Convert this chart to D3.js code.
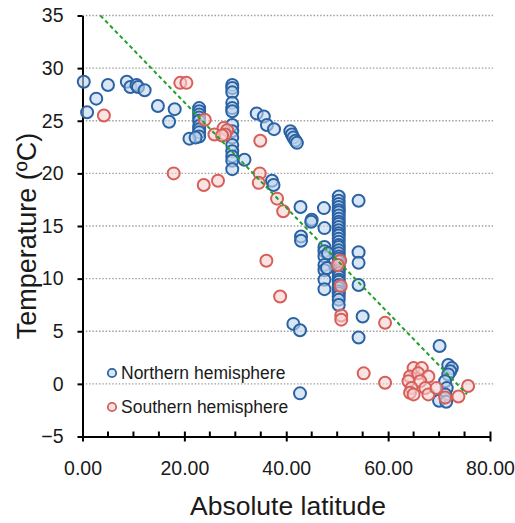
<!DOCTYPE html>
<html><head><meta charset="utf-8">
<script src="https://cdnjs.cloudflare.com/ajax/libs/d3/7.8.5/d3.min.js"></script>
<style>html,body{margin:0;padding:0;background:#fff;}svg{display:block;font-family:"Liberation Sans",Arial,sans-serif;}</style>
</head><body><svg id="c" width="515" height="523"></svg>
<script>
// ---- data ----
const northX = [0.25,0.9,2.7,5.0,8.7,9.4,10.6,10.9,12.2,14.8,18.1,17.0,
  22.9,22.9,22.9,22.9,22.9,22.9,22.9,22.9,22.9,21.0,22.2,
  29.4,29.4,29.4,29.4,29.4,29.4,29.4,29.4,29.4,29.4,29.4,29.4,29.4,29.4,
  31.8,34.2,35.6,36.2,37.6,40.8,41.1,41.4,41.8,42.1,37.2,37.5,
  42.8,45.0,44.9,47.4,42.9,42.9,
  47.5,47.5,47.5,47.5,47.5,47.5,47.5,47.5,48.2,48.0,
  50.3,50.3,50.3,50.3,50.3,50.3,50.3,50.3,50.3,50.3,50.3,50.3,50.3,50.3,50.3,50.3,50.3,50.3,50.3,50.3,
  50.3,50.3,50.3,50.3,50.3,50.3,50.3,50.3,50.3,50.3,50.3,50.3,50.3,50.3,50.3,50.3,50.3,
  54.2,54.2,54.2,54.2,55.0,54.2,41.4,42.7,42.7,
  70.1,71.8,72.5,72.2,71.8,71.2,71.5,71.2,70.0,71.4];
const northY = [28.7,25.8,27.1,28.4,28.7,28.2,28.4,28.2,27.9,26.4,26.1,24.9,
  26.2,25.9,25.6,25.3,25.0,24.5,24.2,23.9,23.5,23.3,23.4,
  28.4,28.1,27.7,26.7,26.2,25.9,24.6,24.0,23.4,22.7,22.1,21.6,21.2,20.4,
  21.3,25.7,25.4,24.6,24.2,24.0,23.7,23.4,23.1,22.9,19.3,18.9,
  16.8,15.6,15.4,16.7,14.0,13.6,
  14.8,13.0,12.6,12.1,11.3,10.8,9.9,9.0,12.4,11.0,
  17.8,17.4,17.1,16.8,16.5,16.3,16.0,15.7,15.4,15.2,14.9,14.6,14.3,14.1,13.8,13.5,13.2,13.0,12.7,12.4,
  12.1,11.9,11.6,11.3,11.0,10.8,10.5,10.2,9.9,9.7,9.4,9.1,8.8,8.6,8.3,8.0,7.5,
  17.4,12.5,11.5,9.4,6.4,4.4,5.7,5.1,-0.9,
  3.6,1.8,1.5,1.2,0.9,0.25,-0.4,-1.0,-1.6,-1.7];
const southX = [4.2,19.2,20.4,24.0,25.9,27.7,28.4,28.0,27.4,17.9,23.8,26.6,
  34.9,34.8,34.6,38.2,39.4,36.1,38.8,
  50.6,50.1,50.7,50.8,50.8,59.4,55.2,59.4,
  65.0,66.6,64.3,65.9,67.9,64.0,66.3,64.6,67.3,64.3,65.0,67.9,69.5,71.2,73.8,75.7];
const southY = [25.5,28.6,28.6,25.1,23.7,24.3,24.1,23.7,23.6,20.0,18.9,19.3,
  23.1,20.0,19.1,17.6,16.4,11.7,8.3,
  11.7,11.3,9.3,6.5,6.1,5.8,1.0,0.1,
  1.5,1.5,0.7,1.0,0.7,0.25,0.25,-0.4,-0.4,-0.85,-1.0,-1.0,-0.4,-1.3,-1.2,-0.2];
const trendX = [3.5, 75.5];
const trendY = [35, -1.0];
const xTicks = [0, 20, 40, 60, 80];
const xMinor = [5,10,15,25,30,35,45,50,55,65,70,75];
const yTicks = [-5,0,5,10,15,20,25,30,35];
const gridY = [0,5,10,15,20,25,30,35];
const seriesNames = ["Northern hemisphere","Southern hemisphere"];

// ---- chart ----
const svg = d3.select("#c");
const x = d3.scaleLinear().domain([0,80]).range([82.5,490]);
const y = d3.scaleLinear().domain([-5,35]).range([436.5,15.5]);
const blue = {stroke:"#2b62a3", fill:"rgba(190,214,238,0.6)"};
const red = {stroke:"#d65f5a", fill:"rgba(246,208,208,0.6)"};

// grid
svg.append("g").selectAll("line").data(gridY).join("line")
  .attr("x1", x(0)).attr("x2", x(80.6))
  .attr("y1", d=>y(d)).attr("y2", d=>y(d))
  .attr("stroke","#a0a0a0").attr("stroke-width",1.3).attr("stroke-dasharray","1.5,1.8");

// y axis
const ya = svg.append("g").attr("transform",`translate(${x(0)},0)`)
  .call(d3.axisLeft(y).tickValues(yTicks).tickFormat(d3.format("d")).tickSize(5).tickSizeOuter(0).tickPadding(14));
ya.select(".domain").attr("stroke","#000").attr("stroke-width",2);
ya.selectAll(".tick line").attr("stroke","#000").attr("stroke-width",2);
ya.selectAll("text").attr("font-size",19.5).attr("fill","#1a1a1a").attr("font-family","Liberation Sans, Arial, sans-serif");

// x axis
const xa = svg.append("g").attr("transform",`translate(0,${y(-5)})`)
  .call(d3.axisBottom(x).tickValues(xTicks).tickFormat(d3.format(".2f")).tickSize(5).tickSizeOuter(0).tickPadding(20));
xa.select(".domain").attr("stroke","#000").attr("stroke-width",2);
xa.selectAll(".tick line").attr("stroke","#000").attr("stroke-width",2).attr("y1",-5);
xa.selectAll("text").attr("font-size",19.5).attr("fill","#1a1a1a").attr("font-family","Liberation Sans, Arial, sans-serif");
xa.append("g").selectAll("line").data(xMinor).join("line")
  .attr("x1",d=>x(d)).attr("x2",d=>x(d)).attr("y1",0).attr("y2",-5)
  .attr("stroke","#000").attr("stroke-width",2);

// points
function drawSeries(xs, ys, c){
  svg.append("g").selectAll("circle").data(xs.map((v,i)=>[v,ys[i]])).join("circle")
    .attr("cx",d=>x(d[0])).attr("cy",d=>y(d[1])).attr("r",6)
    .attr("fill",c.fill).attr("stroke",c.stroke).attr("stroke-width",2);
}
drawSeries(northX, northY, blue);
drawSeries(southX, southY, red);

// trend line
svg.append("path").datum(trendX.map((v,i)=>[v,trendY[i]]))
  .attr("d", d3.line().x(d=>x(d[0])).y(d=>y(d[1])))
  .attr("stroke","#22a02a").attr("stroke-width",2).attr("stroke-dasharray","4,3").attr("fill","none");

// legend
const lg = svg.append("g");
[blue, red].forEach((c,i)=>{
  const yy = 373 + i*34;
  lg.append("circle").attr("cx",112).attr("cy",yy).attr("r",4.2)
    .attr("fill",c.fill).attr("stroke",c.stroke).attr("stroke-width",1.8);
  lg.append("text").attr("x",121).attr("y",yy).attr("dy","0.36em")
    .attr("font-size",17.5).attr("fill","#1a1a1a").text(seriesNames[i]);
});

// titles
svg.append("text").attr("x",288).attr("y",515).attr("text-anchor","middle")
  .attr("font-size",26.5).attr("fill","#1a1a1a").text("Absolute latitude");
svg.append("text").attr("transform","translate(36,236) rotate(-90)").attr("text-anchor","middle")
  .attr("font-size",27).attr("fill","#1a1a1a").text("Temperature (ºC)");
</script></body></html>
